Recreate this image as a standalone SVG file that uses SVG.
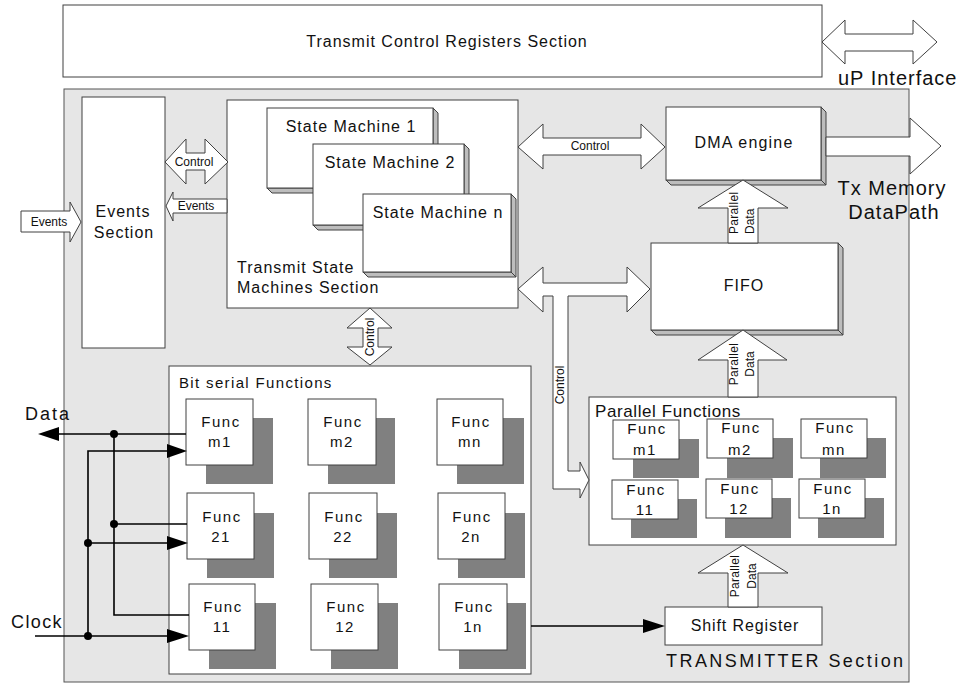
<svg xmlns="http://www.w3.org/2000/svg" width="959" height="683" viewBox="0 0 959 683">
<style>
text{font-family:"Liberation Sans",Arial,sans-serif;fill:#111}
.box{fill:#fff;stroke:#404040;stroke-width:1}
.bevel{fill:#bdbdbd;stroke:#404040;stroke-width:1;stroke-linejoin:round}
.shadow{fill:#808080}
.arrow{fill:#fff;stroke:#404040;stroke-width:1}
.wire{stroke:#000;stroke-width:1.6;fill:none}
.head{fill:#000}
.t16{font-size:16px;letter-spacing:1px}
.t20{font-size:20px;letter-spacing:1px}
.t12{font-size:12px}
.mid{text-anchor:middle}
.fn{font-size:15px;letter-spacing:1.5px;text-anchor:middle}
</style>
<rect x="0" y="0" width="959" height="683" fill="#fff"/>

<g id="transmitter-section">
<rect x="64" y="89" width="845" height="593" fill="#e6e6e6" stroke="#555" stroke-width="1"/>
<text x="666" y="667" style="font-size:18px;letter-spacing:2.45px">TRANSMITTER Section</text>
</g>

<g id="control-registers">
<rect x="63" y="5" width="759" height="72" class="box"/>
<text x="447" y="47" class="t16 mid">Transmit Control Registers Section</text>
</g>

<g id="events-section">
<rect x="82" y="97" width="83" height="251" class="box"/>
<text x="123" y="217" class="t16 mid">Events</text>
<text x="124" y="238" class="t16 mid">Section</text>
</g>

<g id="state-machines">
<rect x="227" y="100" width="291" height="208" class="box"/>
<g id="sm1">
<polygon class="bevel" points="433,108 438,113 438,193 433,188"/>
<polygon class="bevel" points="267,188 433,188 438,193 272,193"/>
<rect x="267" y="108" width="166" height="80" class="box"/>
<text x="351" y="132" class="t16 mid">State Machine 1</text>
</g>
<g id="sm2">
<polygon class="bevel" points="464,144 469,149 469,230 464,225"/>
<polygon class="bevel" points="313,225 464,225 469,230 318,230"/>
<rect x="313" y="144" width="151" height="81" class="box"/>
<text x="390" y="168" class="t16 mid">State Machine 2</text>
</g>
<g id="smn">
<polygon class="bevel" points="511,194 516,199 516,277 511,272"/>
<polygon class="bevel" points="363,272 511,272 516,277 368,277"/>
<rect x="363" y="194" width="148" height="78" class="box"/>
<text x="438" y="218" class="t16 mid">State Machine n</text>
</g>
<text x="237" y="273" class="t16">Transmit State</text>
<text x="237" y="293" class="t16">Machines Section</text>
</g>

<g id="dma-engine">
<polygon class="bevel" points="821,107 826,112 826,185 821,180"/>
<polygon class="bevel" points="666,180 821,180 826,185 671,185"/>
<rect x="666" y="107" width="155" height="73" class="box"/>
<text x="744" y="148" class="t16 mid" style="letter-spacing:1.2px">DMA engine</text>
</g>

<g id="fifo">
<polygon class="bevel" points="838,243 843,248 843,335 838,330"/>
<polygon class="bevel" points="651,330 838,330 843,335 656,335"/>
<rect x="651" y="243" width="187" height="87" class="box"/>
<text x="744" y="291" class="t16 mid">FIFO</text>
</g>

<g id="parallel-functions">
<rect x="589" y="397" width="307" height="148" class="box"/>
<text x="595" y="417" style="font-size:17px;letter-spacing:0.6px">Parallel Functions</text>
<g id="pf-m1"><rect x="633" y="439" width="66" height="39" class="shadow"/><rect x="613" y="420" width="66" height="39" class="box"/><text x="647" y="434" class="fn">Func</text><text x="645" y="455" class="fn">m1</text></g>
<g id="pf-m2"><rect x="727" y="438" width="66" height="40" class="shadow"/><rect x="707" y="419" width="66" height="39" class="box"/><text x="741" y="433" class="fn">Func</text><text x="740" y="455" class="fn">m2</text></g>
<g id="pf-mn"><rect x="820" y="438" width="66" height="40" class="shadow"/><rect x="801" y="419" width="66" height="39" class="box"/><text x="835" y="433" class="fn">Func</text><text x="834" y="455" class="fn">mn</text></g>
<g id="pf-11"><rect x="631" y="499" width="66" height="39" class="shadow"/><rect x="612" y="480" width="66" height="39" class="box"/><text x="646" y="495" class="fn">Func</text><text x="645" y="515" class="fn">11</text></g>
<g id="pf-12"><rect x="725" y="498" width="66" height="40" class="shadow"/><rect x="706" y="479" width="66" height="39" class="box"/><text x="740" y="494" class="fn">Func</text><text x="739" y="514" class="fn">12</text></g>
<g id="pf-1n"><rect x="818" y="498" width="66" height="40" class="shadow"/><rect x="799" y="479" width="66" height="39" class="box"/><text x="833" y="494" class="fn">Func</text><text x="832" y="514" class="fn">1n</text></g>
</g>

<g id="shift-register">
<rect x="665" y="607" width="157" height="38" class="box"/>
<text x="745" y="631" class="t16 mid" style="letter-spacing:0.9px">Shift Register</text>
</g>

<g id="bit-serial-functions">
<rect x="169" y="366" width="362" height="308" class="box"/>
<text x="179" y="388" style="font-size:15px;letter-spacing:1.35px">Bit serial Functions</text>
<g id="bs-m1"><rect x="206" y="418" width="67" height="66" class="shadow"/><rect x="186" y="399" width="67" height="66" class="box"/><text x="221" y="427" class="fn">Func</text><text x="220" y="447" class="fn">m1</text></g>
<g id="bs-m2"><rect x="328" y="418" width="67" height="66" class="shadow"/><rect x="308" y="399" width="68" height="66" class="box"/><text x="343" y="427" class="fn">Func</text><text x="342" y="447" class="fn">m2</text></g>
<g id="bs-mn"><rect x="457" y="418" width="67" height="66" class="shadow"/><rect x="437" y="399" width="66" height="66" class="box"/><text x="471" y="427" class="fn">Func</text><text x="470" y="447" class="fn">mn</text></g>
<g id="bs-21"><rect x="207" y="513" width="67" height="65" class="shadow"/><rect x="187" y="493" width="67" height="66" class="box"/><text x="222" y="522" class="fn">Func</text><text x="221" y="542" class="fn">21</text></g>
<g id="bs-22"><rect x="329" y="513" width="68" height="65" class="shadow"/><rect x="309" y="493" width="68" height="66" class="box"/><text x="344" y="522" class="fn">Func</text><text x="343" y="542" class="fn">22</text></g>
<g id="bs-2n"><rect x="458" y="513" width="67" height="65" class="shadow"/><rect x="438" y="493" width="67" height="66" class="box"/><text x="472" y="522" class="fn">Func</text><text x="471" y="542" class="fn">2n</text></g>
<g id="bs-11"><rect x="209" y="603" width="67" height="66" class="shadow"/><rect x="189" y="584" width="66" height="66" class="box"/><text x="223" y="612" class="fn">Func</text><text x="222" y="632" class="fn">11</text></g>
<g id="bs-12"><rect x="331" y="603" width="67" height="66" class="shadow"/><rect x="311" y="584" width="67" height="66" class="box"/><text x="346" y="612" class="fn">Func</text><text x="345" y="632" class="fn">12</text></g>
<g id="bs-1n"><rect x="459" y="603" width="67" height="66" class="shadow"/><rect x="439" y="584" width="68" height="66" class="box"/><text x="474" y="612" class="fn">Func</text><text x="473" y="632" class="fn">1n</text></g>
</g>

<g id="connectors">
<polygon class="arrow" points="822,42 845,20 845,34 913,34 913,20 937,42 913,64 913,51 845,51 845,64"/>
<text x="838" y="85" class="t20">uP Interface</text>
<polygon class="arrow" points="826,137 910,137 910,118 941,146 910,174 910,156 826,156"/>
<text x="892" y="195" class="t20 mid">Tx Memory</text>
<text x="894" y="219" class="t20 mid">DataPath</text>
<polygon class="arrow" points="21,211 70,211 70,202 81,222 70,242 70,232 21,232"/>
<text x="49" y="226" class="t12 mid">Events</text>
<polygon class="arrow" points="165,162 186,139 186,153 205,153 205,139 228,162 205,184 205,170 186,170 186,184"/>
<text x="194" y="166" class="t12 mid">Control</text>
<polygon class="arrow" points="166,206 173,192 173,199 227,199 227,213 173,213 173,221"/>
<text x="196" y="210" class="t12 mid">Events</text>
<polygon class="arrow" points="518,147 543,124 543,138 641,138 641,124 665,147 641,169 641,155 543,155 543,169"/>
<text x="590" y="150" class="t12 mid">Control</text>
<polygon class="arrow" points="518,289 543,267 543,283 627,283 627,267 650,289 627,312 627,296 568,296 568,471 580,471 580,462 589,480 580,498 580,489 553,489 553,296 543,296 543,312"/>
<text transform="translate(564,385) rotate(-90)" class="t12 mid">Control</text>
<polygon class="arrow" points="370,308 392,328 378,328 378,347 392,347 370,365 347,347 363,347 363,328 347,328"/>
<text transform="translate(374,337) rotate(-90)" class="t12 mid">Control</text>
<polygon class="arrow" points="743,180 788,208 758,208 758,243 728,243 728,208 698,208"/>
<text transform="translate(738,234) rotate(-90)" class="t12" style="letter-spacing:0.3px">Parallel</text>
<text transform="translate(754,234) rotate(-90)" class="t12">Data</text>
<polygon class="arrow" points="743,330 787,360 758,360 758,397 728,397 728,360 698,360"/>
<text transform="translate(738,364) rotate(-90)" class="t12 mid" style="letter-spacing:0.3px">Parallel</text>
<text transform="translate(754,364) rotate(-90)" class="t12 mid">Data</text>
<polygon class="arrow" points="743,545 788,573 758,573 758,607 728,607 728,573 698,573"/>
<text transform="translate(739,576) rotate(-90)" class="t12 mid" style="letter-spacing:0.3px">Parallel</text>
<text transform="translate(756,576) rotate(-90)" class="t12 mid">Data</text>
<line class="wire" x1="531" y1="626" x2="645" y2="626"/>
<polygon class="head" points="665,626 643,619 643,633"/>
<polyline class="wire" points="186,434 57,434"/>
<polygon class="head" points="38,434 59,427 59,441"/>
<polyline class="wire" points="114,434 114,615 189,615"/>
<polyline class="wire" points="114,524 187,524"/>
<circle cx="114" cy="434" r="4" fill="#000"/>
<circle cx="114" cy="524" r="4" fill="#000"/>
<polyline class="wire" points="35,636 169,636"/>
<polygon class="head" points="189,636 167,629 167,643"/>
<polyline class="wire" points="88,636 88,451 170,451"/>
<polygon class="head" points="187,451 167,444 167,458"/>
<polyline class="wire" points="88,543 170,543"/>
<polygon class="head" points="188,543 167,536 167,550"/>
<circle cx="88" cy="636" r="4" fill="#000"/>
<circle cx="88" cy="543" r="4" fill="#000"/>
<text x="25" y="420" style="font-size:18px;letter-spacing:2px">Data</text>
<text x="11" y="628" style="font-size:18px;letter-spacing:1.4px">Clock</text>
</g>
</svg>
